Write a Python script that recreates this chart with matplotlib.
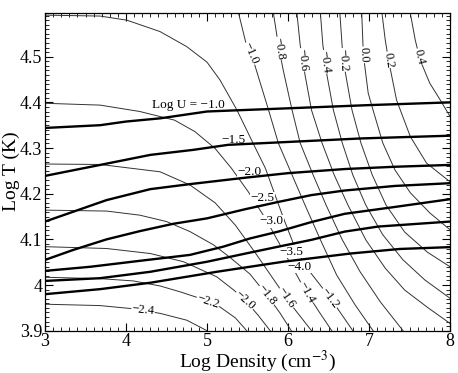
import numpy as np
import matplotlib.pyplot as plt
from matplotlib.ticker import MultipleLocator, FuncFormatter

plt.rcParams['font.family'] = ['Liberation Serif', 'DejaVu Serif']
plt.rcParams['mathtext.fontset'] = 'stix'

# thick lines: ionization parameter tracks (Log U)
u10_x = [3.00, 3.68, 4.00, 4.42, 5.00, 5.28, 6.00, 7.00, 8.00]
u10_y = [4.344, 4.350, 4.358, 4.365, 4.380, 4.382, 4.387, 4.394, 4.400]
u15_x = [3.00, 3.68, 4.30, 4.83, 5.26, 6.08, 6.90, 8.00]
u15_y = [4.239, 4.263, 4.285, 4.296, 4.307, 4.314, 4.321, 4.327]
u20_x = [3.00, 3.76, 4.30, 4.79, 5.47, 6.00, 6.70, 7.32, 8.00]
u20_y = [4.139, 4.186, 4.210, 4.221, 4.235, 4.245, 4.254, 4.259, 4.263]
u25_x = [3.00, 3.35, 3.76, 4.17, 4.58, 5.00, 5.47, 5.88, 6.29, 6.70, 7.32, 8.00]
u25_y = [4.055, 4.077, 4.100, 4.118, 4.134, 4.146, 4.166, 4.182, 4.197, 4.207, 4.217, 4.223]
u30_x = [3.00, 3.56, 4.17, 4.79, 5.20, 5.53, 5.88, 6.29, 6.70, 7.32, 8.00]
u30_y = [4.031, 4.040, 4.053, 4.066, 4.084, 4.102, 4.117, 4.138, 4.156, 4.171, 4.188]
u35_x = [3.00, 3.68, 4.30, 5.00, 5.53, 5.88, 6.29, 6.70, 7.11, 8.00]
u35_y = [4.009, 4.015, 4.029, 4.051, 4.071, 4.084, 4.099, 4.117, 4.128, 4.139]
u40_x = [3.00, 3.68, 4.30, 5.12, 5.94, 6.77, 7.38, 8.00]
u40_y = [3.980, 3.991, 4.005, 4.029, 4.051, 4.069, 4.079, 4.083]

u_labels = ['Log U = \u22121.0', '\u22121.5', '\u22122.0', '\u22122.5', '\u22123.0', '\u22123.5', '\u22124.0']
u_label_x = [4.77, 5.32, 5.52, 5.68, 5.80, 6.04, 6.14]
u_label_y = [4.394, 4.318, 4.247, 4.190, 4.140, 4.073, 4.040]

# thin contour lines (entering from the left side)
c24_x = [3.00, 3.68, 4.09, 4.42, 4.75, 4.87, 5.00]
c24_y = [3.958, 3.955, 3.948, 3.938, 3.923, 3.912, 3.900]
c22_x = [3.00, 3.68, 4.09, 4.42, 4.67, 4.91, 5.16, 5.35, 5.49]
c22_y = [4.017, 4.014, 4.009, 3.998, 3.985, 3.971, 3.952, 3.928, 3.900]
c20_x = [3.00, 3.76, 4.30, 4.71, 5.12, 5.33, 5.47, 5.63, 5.78]
c20_y = [4.084, 4.080, 4.069, 4.051, 4.018, 3.989, 3.967, 3.934, 3.900]
c18_x = [3.00, 3.76, 4.17, 4.50, 4.79, 5.08, 5.28, 5.53, 5.74, 5.90, 6.04]
c18_y = [4.164, 4.162, 4.153, 4.139, 4.117, 4.088, 4.061, 4.024, 3.978, 3.939, 3.900]
c16_x = [3.00, 3.68, 4.42, 4.79, 5.10, 5.35, 5.59, 5.80, 6.02, 6.29]
c16_y = [4.265, 4.264, 4.248, 4.219, 4.180, 4.131, 4.072, 4.018, 3.961, 3.900]
c14_x = [3.00, 3.68, 4.17, 4.60, 4.85, 5.10, 5.30, 5.51, 5.72, 5.88, 6.02, 6.21, 6.37, 6.54]
c14_y = [4.398, 4.394, 4.380, 4.361, 4.336, 4.299, 4.256, 4.204, 4.146, 4.095, 4.050, 3.989, 3.945, 3.900]
c12_x = [3.00, 3.68, 4.01, 4.42, 4.75, 5.00, 5.16, 5.37, 5.57, 5.72, 5.84, 5.96, 6.09, 6.27, 6.52, 6.80]
c12_y = [4.591, 4.589, 4.580, 4.555, 4.522, 4.488, 4.449, 4.383, 4.310, 4.256, 4.197, 4.139, 4.080, 4.029, 3.972, 3.900]

# thin contour lines (entering from the top)
c10_x = [5.39, 5.48, 5.57, 5.76, 5.88, 6.05, 6.21, 6.40, 6.60, 6.83, 7.05]
c10_y = [4.595, 4.530, 4.493, 4.383, 4.311, 4.241, 4.175, 4.099, 4.022, 3.956, 3.900]
c08_x = [5.82, 5.88, 5.94, 6.05, 6.15, 6.31, 6.47, 6.67, 6.89, 7.14, 7.42]
c08_y = [4.595, 4.526, 4.471, 4.383, 4.311, 4.241, 4.175, 4.099, 4.029, 3.963, 3.900]
c06_x = [6.11, 6.15, 6.21, 6.29, 6.42, 6.57, 6.74, 6.96, 7.20, 7.44, 7.73, 8.00]
c06_y = [4.595, 4.526, 4.460, 4.383, 4.311, 4.241, 4.175, 4.099, 4.037, 3.989, 3.950, 3.916]
c04_x = [6.40, 6.43, 6.48, 6.56, 6.67, 6.80, 6.96, 7.17, 7.42, 7.69, 8.00]
c04_y = [4.595, 4.526, 4.460, 4.383, 4.311, 4.241, 4.175, 4.110, 4.055, 4.011, 3.971]
c02_x = [6.64, 6.68, 6.79, 6.90, 7.04, 7.21, 7.44, 7.72, 8.00]
c02_y = [4.595, 4.493, 4.383, 4.311, 4.241, 4.175, 4.116, 4.072, 4.040]
p00_x = [6.91, 6.93, 6.99, 7.05, 7.17, 7.32, 7.51, 7.75, 8.00]
p00_y = [4.595, 4.504, 4.420, 4.383, 4.311, 4.252, 4.202, 4.158, 4.121]
p02_x = [7.16, 7.20, 7.24, 7.34, 7.51, 7.71, 8.00]
p02_y = [4.595, 4.537, 4.493, 4.405, 4.325, 4.267, 4.226]
p04_x = [7.51, 7.57, 7.63, 7.75, 7.88, 8.00]
p04_y = [4.595, 4.537, 4.493, 4.442, 4.405, 4.369]

left_texts = ['\u22122.4', '\u22122.2', '\u22122.0', '\u22121.8', '\u22121.6', '\u22121.4', '\u22121.2']
left_label_x = [4.21, 5.01, 5.47, 5.74, 5.98, 6.23, 6.52]
top_texts = ['\u22121.0', '\u22120.8', '\u22120.6', '\u22120.4', '\u22120.2', '0.0', '0.2', '0.4']
top_label_y = [4.507, 4.518, 4.493, 4.489, 4.493, 4.504, 4.493, 4.500]

thick = [(u10_x, u10_y), (u15_x, u15_y), (u20_x, u20_y), (u25_x, u25_y),
         (u30_x, u30_y), (u35_x, u35_y), (u40_x, u40_y)]
left_lines = [(c24_x, c24_y), (c22_x, c22_y), (c20_x, c20_y), (c18_x, c18_y),
              (c16_x, c16_y), (c14_x, c14_y), (c12_x, c12_y)]
top_lines = [(c10_x, c10_y), (c08_x, c08_y), (c06_x, c06_y), (c04_x, c04_y),
             (c02_x, c02_y), (p00_x, p00_y), (p02_x, p02_y), (p04_x, p04_y)]

fig = plt.figure(figsize=(4.58, 3.73), dpi=100)
ax = fig.add_axes([0.0983, 0.1134, 0.8843, 0.8509])
ax.set_xlim(3, 8)
ax.set_ylim(3.9, 4.595)

for xs, ys in left_lines + top_lines:
    ax.plot(xs, ys, color='#333333', lw=0.7, zorder=2)
for xs, ys in thick:
    ax.plot(xs, ys, color='black', lw=1.7, zorder=4)

box = dict(facecolor='white', edgecolor='none', pad=0.4)


def line_angle(xs, ys, x0, y0):
    # local slope of a line in screen space, for rotating inline labels
    i = int(np.argmin(np.hypot(np.array(xs) - x0, (np.array(ys) - y0) * 7)))
    i = min(max(i, 1), len(xs) - 1)
    p1 = ax.transData.transform((xs[i - 1], ys[i - 1]))
    p2 = ax.transData.transform((xs[i], ys[i]))
    ang = np.degrees(np.arctan2(p2[1] - p1[1], p2[0] - p1[0]))
    if ang > 90:
        ang -= 180
    if ang < -90:
        ang += 180
    return ang


for (xs, ys), txt, lx in zip(left_lines, left_texts, left_label_x):
    ly = np.interp(lx, xs, ys)
    ax.text(lx, ly, txt, fontsize=9, ha='center', va='center', rotation=line_angle(xs, ys, lx, ly),
            rotation_mode='anchor', bbox=box, zorder=3)

for (xs, ys), txt, ly in zip(top_lines, top_texts, top_label_y):
    lx = np.interp(ly, ys[::-1], xs[::-1])
    ax.text(lx, ly, txt, fontsize=9, ha='center', va='center', rotation=line_angle(xs, ys, lx, ly),
            rotation_mode='anchor', bbox=box, zorder=3)

for txt, lx, ly in zip(u_labels, u_label_x, u_label_y):
    ax.text(lx, ly, txt, fontsize=9.5, ha='center', va='center', bbox=box, zorder=3)

ax.xaxis.set_major_locator(MultipleLocator(1))
ax.xaxis.set_minor_locator(MultipleLocator(0.1))
ax.yaxis.set_major_locator(MultipleLocator(0.1))
ax.yaxis.set_minor_locator(MultipleLocator(0.01))
ax.yaxis.set_major_formatter(FuncFormatter(lambda v, p: f'{v:g}'))
ax.tick_params(which='both', direction='in', top=True, right=True, labelsize=13)
ax.tick_params(axis='x', which='major', pad=1.5)
ax.tick_params(axis='y', which='major', pad=2)
ax.tick_params(which='major', length=6, width=0.8)
ax.tick_params(which='minor', length=3, width=0.6)
for s in ax.spines.values():
    s.set_linewidth(0.9)

fig.text(0.562, 0.016, 'Log Density (cm$^{-3}$)', fontsize=14, ha='center', va='baseline')
fig.text(0.024, 0.54, 'Log T (K)', fontsize=14, ha='center', va='center', rotation=90)

fig.savefig('out.png', dpi=100)
